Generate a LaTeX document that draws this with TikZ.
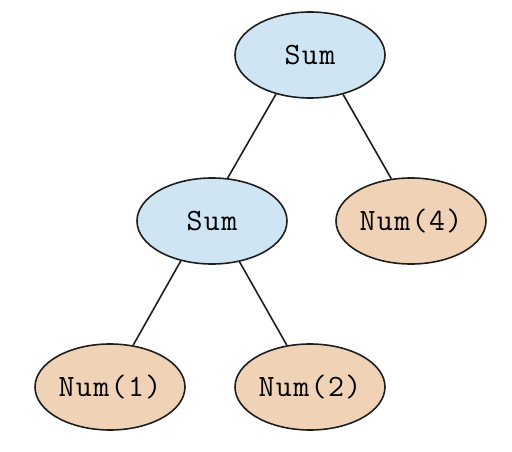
\documentclass[tikz,border=0pt]{standalone}
\usepackage{fontspec}
\newfontfamily\labelfont{Latin Modern Mono}[LetterSpace=4.5]
\usetikzlibrary{shapes.geometric}
\definecolor{sumfill}{RGB}{207,229,243}
\definecolor{numfill}{RGB}{240,211,183}
\definecolor{ink}{RGB}{30,30,30}
\begin{document}
\begin{tikzpicture}[x=1pt,y=-1pt,
  tnode/.style={ellipse, draw=ink, line width=1.6pt, minimum width=150pt, minimum height=86pt,
    inner sep=0pt, font=\labelfont\fontsize{31}{31}\selectfont, text=black},
  sumnode/.style={tnode, fill=sumfill},
  numnode/.style={tnode, fill=numfill},
  edge/.style={draw=ink, line width=1.6pt}]
\useasboundingbox (0,0) rectangle (512,452);
\node[sumnode] (root) at (310,55) {Sum};
\node[sumnode] (inner) at (212,221) {Sum};
\node[numnode] (n4) at (411,221) {Num(4)};
\node[numnode] (n1) at (110,387) {Num(1)};
\node[numnode] (n2) at (310,387) {Num(2)};
\draw[edge] (root.229) -- (inner.70);
\draw[edge] (root.310) -- (n4.115);
\draw[edge] (inner.232) -- (n1.61);
\draw[edge] (inner.304) -- (n2.119);
\end{tikzpicture}
\end{document}
